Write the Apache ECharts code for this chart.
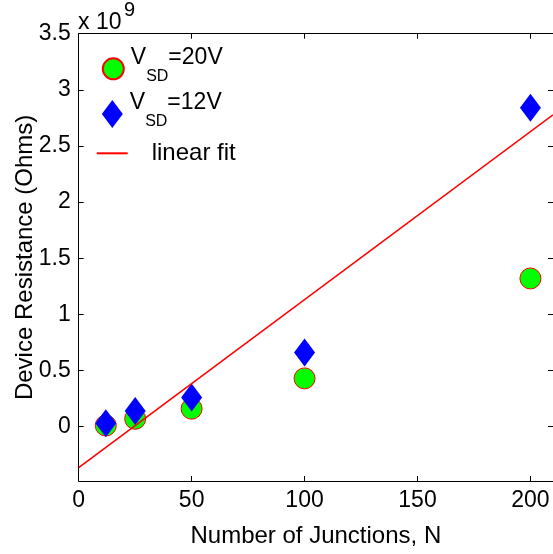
<!DOCTYPE html>
<html><head><meta charset="utf-8">
<script src="https://cdn.jsdelivr.net/npm/echarts@6/dist/echarts.min.js"></script>
<style>html,body{margin:0;padding:0;background:#fff}#c{width:553px;height:554px}</style>
</head><body><div id="c"></div>
<script>
// Data (resistance in units of 1e9 Ohms)
const junctions = [12, 25, 50, 100, 200];
const r20V = [0.01, 0.07, 0.16, 0.43, 1.32];
const r12V = [0.03, 0.14, 0.26, 0.66, 2.84];
const fitX = [0, 210];
const fitY = [-0.365, 2.777];
const xTicks = [0, 50, 100, 150, 200];
const yTicks = [0, 0.5, 1, 1.5, 2, 2.5, 3, 3.5];
const xMin = 0, xMax = 210, yMin = -0.484, yMax = 3.5;
const seriesNames = ['V_SD=20V', 'V_SD=12V', 'linear fit'];

const FF = '"Liberation Sans", Arial, Helvetica, sans-serif';
const chart = echarts.init(document.getElementById('c'), null, {renderer: 'canvas'});

function axisCommon(ticks, showLabels) {
  return {
    type: 'value',
    axisLine: {show: true, onZero: false, lineStyle: {color: '#000', width: 1}},
    axisTick: {show: true, inside: true, length: 5, customValues: ticks, lineStyle: {color: '#000', width: 1}},
    axisLabel: {show: showLabels, customValues: ticks, fontSize: 23, color: '#000', fontFamily: FF},
    splitLine: {show: false}
  };
}

const richV = {
  c: {fontSize: 23, lineHeight: 24, verticalAlign: 'top', color: '#000', fontFamily: FF, padding: [0, 0, 0, 2]},
  a: {fontSize: 23, lineHeight: 24, verticalAlign: 'top', color: '#000', fontFamily: FF},
  b: {fontSize: 16, lineHeight: 16, verticalAlign: 'top', color: '#000', fontFamily: FF, padding: [21.8, 0, 0, 0]}
};

const option = {
  animation: false,
  backgroundColor: '#fff',
  grid: {left: 78.7, right: -2, top: 33.7, bottom: 73, containLabel: false},
  xAxis: [
    Object.assign(axisCommon(xTicks, true), {
      position: 'bottom', min: xMin, max: xMax,
      name: 'Number of Junctions, N', nameLocation: 'middle', nameGap: 43, nameMoveOverlap: false,
      nameTextStyle: {fontSize: 24, color: '#000', fontFamily: FF}
    }),
    Object.assign(axisCommon(xTicks, false), {position: 'top', min: xMin, max: xMax})
  ],
  yAxis: [
    Object.assign(axisCommon(yTicks, true), {
      position: 'left', min: yMin, max: yMax,
      name: 'Device Resistance (Ohms)', nameLocation: 'middle', nameGap: 41, nameMoveOverlap: false,
      nameTextStyle: {fontSize: 24, color: '#000', fontFamily: FF}
    }),
    Object.assign(axisCommon(yTicks, false), {position: 'right', min: yMin, max: yMax})
  ],
  legend: [
    {data: [{name: seriesNames[0], icon: 'circle'}], left: 101.8, top: 46.3, padding: 0,
     itemWidth: 21, itemHeight: 21, selectedMode: false,
     formatter: () => '{c|V}{b|SD}{a|=20V}', textStyle: {padding: [0, 0, 21, 0], rich: richV}},
    {data: [{name: seriesNames[1], icon: 'diamond'}], left: 101.8, top: 91.5, padding: 0,
     itemWidth: 21, itemHeight: 28, symbolKeepAspect: false, selectedMode: false,
     formatter: () => '{c|V}{b|SD}{a|=12V}', textStyle: {padding: [0, 0, 21, 0], rich: richV}},
    {data: [{name: seriesNames[2], icon: 'rect'}], left: 96.7, top: 141.3, padding: 0,
     itemWidth: 31, itemHeight: 2, selectedMode: false,
     formatter: () => '{d|linear fit}',
     textStyle: {rich: {d: {fontSize: 24, lineHeight: 24, color: '#000', fontFamily: FF, padding: [0, 0, 0, 19]}}}}
  ],
  graphic: [
    {type: 'text', left: 78, top: 11, style: {text: 'x 10', fontSize: 23, fontFamily: FF, fill: '#000'}},
    {type: 'text', left: 124, top: 0, style: {text: '9', fontSize: 20, fontFamily: FF, fill: '#000'}}
  ],
  series: [
    {name: seriesNames[0], type: 'scatter', z: 2,
     data: junctions.map((x, i) => [x, r20V[i]]),
     symbol: 'circle', symbolSize: 21,
     itemStyle: {color: '#00ff00', borderColor: '#ff0000', borderWidth: 1, opacity: 1}},
    {name: seriesNames[1], type: 'scatter', z: 3,
     data: junctions.map((x, i) => [x, r12V[i]]),
     symbol: 'diamond', symbolSize: [21, 28],
     itemStyle: {color: '#0000ff', opacity: 1}},
    {name: seriesNames[2], type: 'line', z: 4,
     data: fitX.map((x, i) => [x, fitY[i]]),
     symbol: 'none', lineStyle: {color: '#ff0000', width: 1.6}, itemStyle: {color: '#ff0000'}}
  ]
};
chart.setOption(option);
</script></body></html>
